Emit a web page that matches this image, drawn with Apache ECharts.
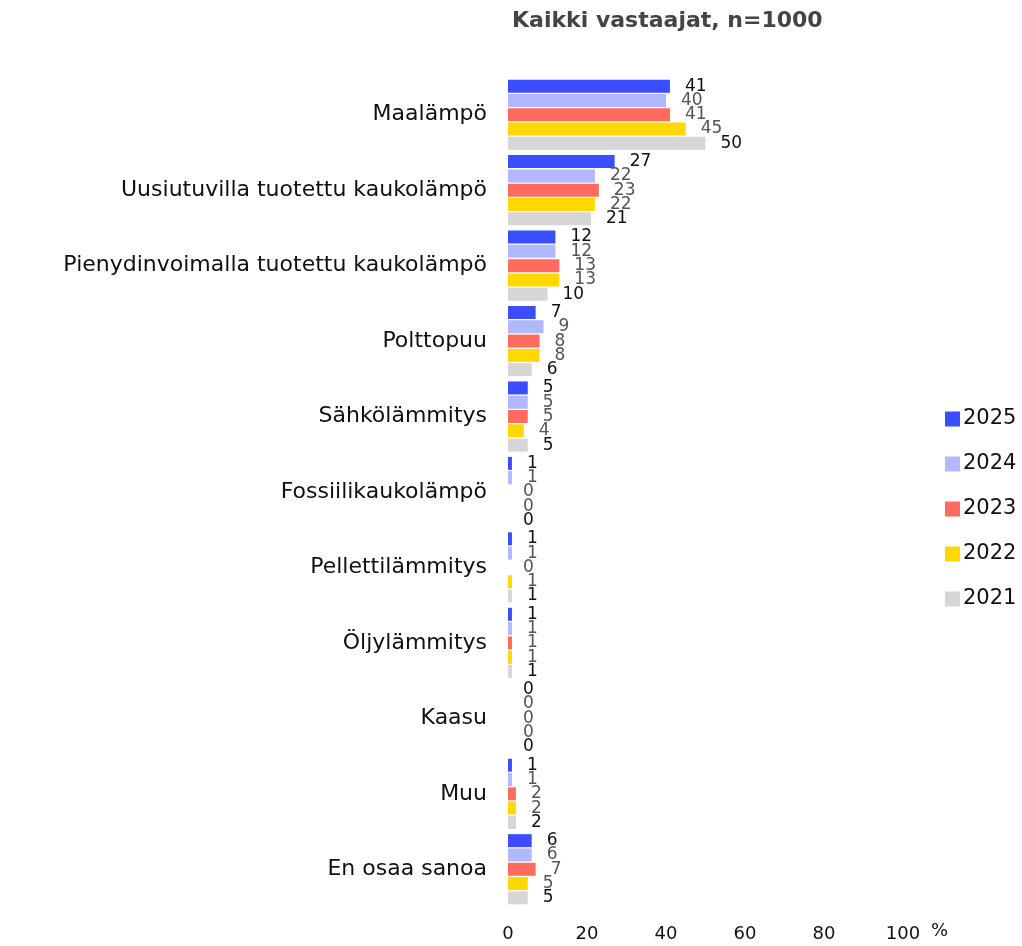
<!DOCTYPE html>
<html><head><meta charset="utf-8">
<script src="https://cdn.jsdelivr.net/npm/echarts@6/dist/echarts.min.js"></script>
<style>html,body{margin:0;padding:0;background:#fff}#c{width:1022px;height:946px}</style>
</head><body><div id="c"></div>
<script>
const categories = ["Maalämpö","Uusiutuvilla tuotettu kaukolämpö","Pienydinvoimalla tuotettu kaukolämpö","Polttopuu","Sähkölämmitys","Fossiilikaukolämpö","Pellettilämmitys","Öljylämmitys","Kaasu","Muu","En osaa sanoa"];
const seriesNames = ["2025","2024","2023","2022","2021"];
const v2025 = [41,27,12,7,5,1,1,1,0,1,6];
const v2024 = [40,22,12,9,5,1,1,1,0,1,6];
const v2023 = [41,23,13,8,5,0,0,1,0,2,7];
const v2022 = [45,22,13,8,4,0,1,1,0,2,5];
const v2021 = [50,21,10,6,5,0,1,1,0,2,5];
const xTicks = [0,20,40,60,80,100];
const colors = ["#3a4dff","#b0b8ff","#ff6b5e","#ffd800","#d6d6d6"];
const labelColors = ["#111","#555","#555","#555","#111"];
const FONT = "DejaVu Sans";
const values = [v2025,v2024,v2023,v2022,v2021];
const chart = echarts.init(document.getElementById('c'));
chart.setOption({
  animation:false,
  textStyle:{fontFamily:FONT},
  title:{text:"Kaikki vastaajat, n=1000",left:507,top:5,textStyle:{fontFamily:FONT,fontSize:22,fontWeight:'bold',color:'#444'}},
  legend:{orient:'vertical',left:940,top:402,itemWidth:15,itemHeight:15,itemGap:21,icon:'rect',
    textStyle:{fontFamily:FONT,fontSize:21,color:'#111',lineHeight:24,padding:[0,0,0,-2]},
    data:seriesNames},
  grid:{left:508,right:119,top:77,bottom:39,containLabel:false},
  xAxis:{type:'value',min:0,max:100,interval:20,
    axisLine:{show:false},axisTick:{show:false},splitLine:{show:false},
    axisLabel:{fontFamily:FONT,fontSize:18,color:'#111',margin:18,
      formatter:(v)=>xTicks.includes(v)?String(v):''},
    name:'%',nameLocation:'end',nameGap:28,nameTextStyle:{fontFamily:FONT,fontSize:18,color:'#111',verticalAlign:'top',padding:[15,0,0,0]}},
  yAxis:{type:'category',data:categories,inverse:true,
    axisLine:{show:false},axisTick:{show:false},
    axisLabel:{fontFamily:FONT,fontSize:22,color:'#111',margin:21}},
  series:seriesNames.map((n,i)=>({
    name:n,type:'bar',data:values[i],barWidth:13,barGap:'10%',barCategoryGap:'4%',
    itemStyle:{color:colors[i]},
    label:{show:true,position:'right',distance:15,fontFamily:FONT,fontSize:17,color:labelColors[i]}
  }))
});
</script></body></html>
